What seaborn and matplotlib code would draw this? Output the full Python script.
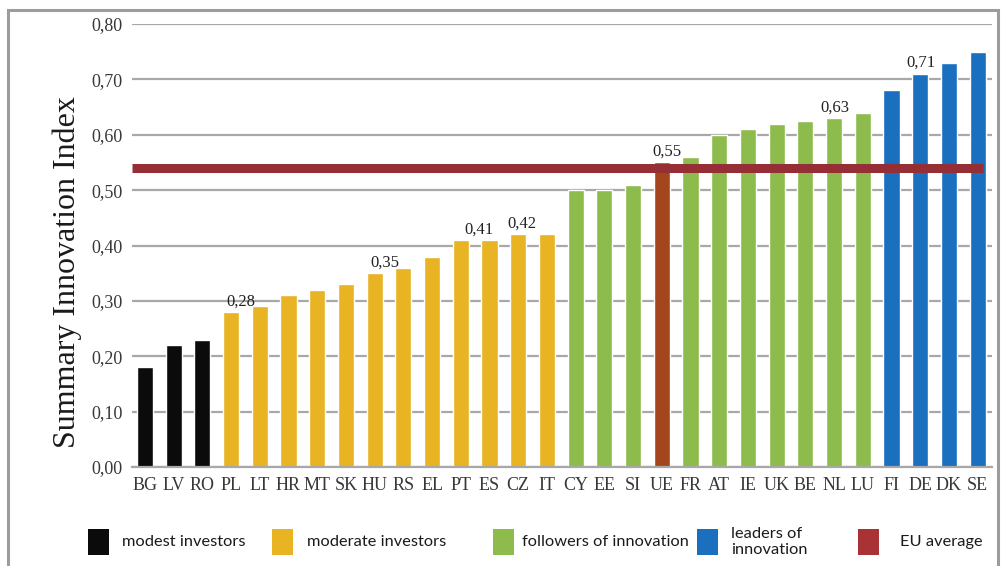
import matplotlib
matplotlib.use("Agg")
import matplotlib.pyplot as plt
import seaborn as sns
import pandas as pd
from matplotlib.patches import Rectangle
from matplotlib.ticker import FuncFormatter, MultipleLocator

countries = ["BG", "LV", "RO", "PL", "LT", "HR", "MT", "SK", "HU", "RS", "EL", "PT", "ES",
             "CZ", "IT", "CY", "EE", "SI", "UE", "FR", "AT", "IE", "UK", "BE", "NL", "LU",
             "FI", "DE", "DK", "SE"]
values = [0.18, 0.22, 0.23, 0.28, 0.29, 0.31, 0.32, 0.33, 0.35, 0.36, 0.38, 0.41, 0.41,
          0.42, 0.42, 0.50, 0.50, 0.51, 0.55, 0.56, 0.60, 0.61, 0.62, 0.625, 0.63, 0.64,
          0.68, 0.71, 0.73, 0.75]
groups = (["modest"] * 3 + ["moderate"] * 12 + ["followers"] * 3 + ["eu"] +
          ["followers"] * 7 + ["leaders"] * 4)
eu_average = 0.54
labelled = ["PL", "HU", "ES", "CZ", "UE", "NL", "DE"]
label_texts = ["0,28", "0,35", "0,41", "0,42", "0,55", "0,63", "0,71"]
legend_labels = ["modest investors", "moderate investors", "followers of innovation",
                 "leaders of\ninnovation", "EU average"]

palette = {"modest": "#0b0b0b", "moderate": "#E8B423", "followers": "#8DBB4C",
           "leaders": "#1A6FBF", "eu": "#A3461C"}
legend_colors = ["#0b0b0b", "#E8B423", "#8DBB4C", "#1A6FBF", "#A83234"]

sns.set_theme(style="white")
plt.rcParams["font.family"] = ["Liberation Serif", "DejaVu Serif"]

W, H = 1001, 566
fig = plt.figure(figsize=(W / 100, H / 100), dpi=100)
fig.patch.set_facecolor("white")

# outer frame
fig.patches.append(Rectangle((8 / W, -0.02), (990) / W, 1 - 10 / H + 0.02,
                             transform=fig.transFigure, fill=False,
                             edgecolor="#9c9c9c", linewidth=2.2))

ax_l, ax_r, ax_t, ax_b = 132, 992, 24, 467
ax = fig.add_axes([ax_l / W, 1 - ax_b / H, (ax_r - ax_l) / W, (ax_b - ax_t) / H])

df = pd.DataFrame({"country": countries, "value": values, "group": groups})
sns.barplot(data=df, x="country", y="value", hue="group", palette=palette,
            order=countries, dodge=False, width=0.56, legend=False,
            saturation=1, ax=ax, zorder=2)

ax.set_xlim(-0.45, len(countries) - 0.5)
ax.set_ylim(0, 0.80)
ax.yaxis.set_major_locator(MultipleLocator(0.10))
ax.yaxis.set_major_formatter(FuncFormatter(lambda v, p: f"{v:.2f}".replace(".", ",")))
ax.grid(axis="y", color="#a8a8a8", linewidth=1.6)
ax.grid(axis="x", visible=False)
ax.set_axisbelow(True)
for s in ["top", "right", "left"]:
    ax.spines[s].set_visible(False)
ax.spines["bottom"].set_color("#a8a8a8")
ax.spines["bottom"].set_linewidth(1.6)

ax.tick_params(axis="y", length=5, width=1.4, color="#a8a8a8", pad=2,
               labelsize=13, labelcolor="#383838")
ax.tick_params(axis="x", length=0, pad=7, labelsize=13, labelcolor="#383838")
ax.set_xlabel("")
ax.set_ylabel("Summary Innovation Index", fontsize=23, color="#1a1a1a", va="center")
ax.yaxis.set_label_coords(-0.0756, 0.441)

# EU average line
ax.axhline(eu_average, xmin=0, xmax=0.99, color="#962F35", linewidth=6.5, zorder=3,
           solid_capstyle="butt")

# value labels
dx_px = {"PL": 10, "HU": 10, "ES": -11, "CZ": 4, "UE": 5, "NL": 1, "DE": 1}
for c, t in zip(labelled, label_texts):
    i = countries.index(c)
    ax.annotate(t, xy=(i, values[i]), xytext=(dx_px[c] * 0.72, 2),
                textcoords="offset points", ha="center", va="bottom",
                fontsize=12, color="#222222", zorder=4)

# legend
patch_x = [88, 272, 493, 697, 858]
text_x = [122, 307, 522, 731, 900]
for px, tx, col, lab in zip(patch_x, text_x, legend_colors, legend_labels):
    fig.patches.append(Rectangle((px / W, 1 - 555 / H), 21 / W, 26 / H,
                                 transform=fig.transFigure, facecolor=col,
                                 edgecolor="none"))
    fig.text(tx / W, 1 - 542 / H, lab, ha="left", va="center", fontsize=11.8,
             family=["Lato", "DejaVu Sans"], color="#1a1a1a", linespacing=1.15)

fig.savefig("out.png", dpi=100)
